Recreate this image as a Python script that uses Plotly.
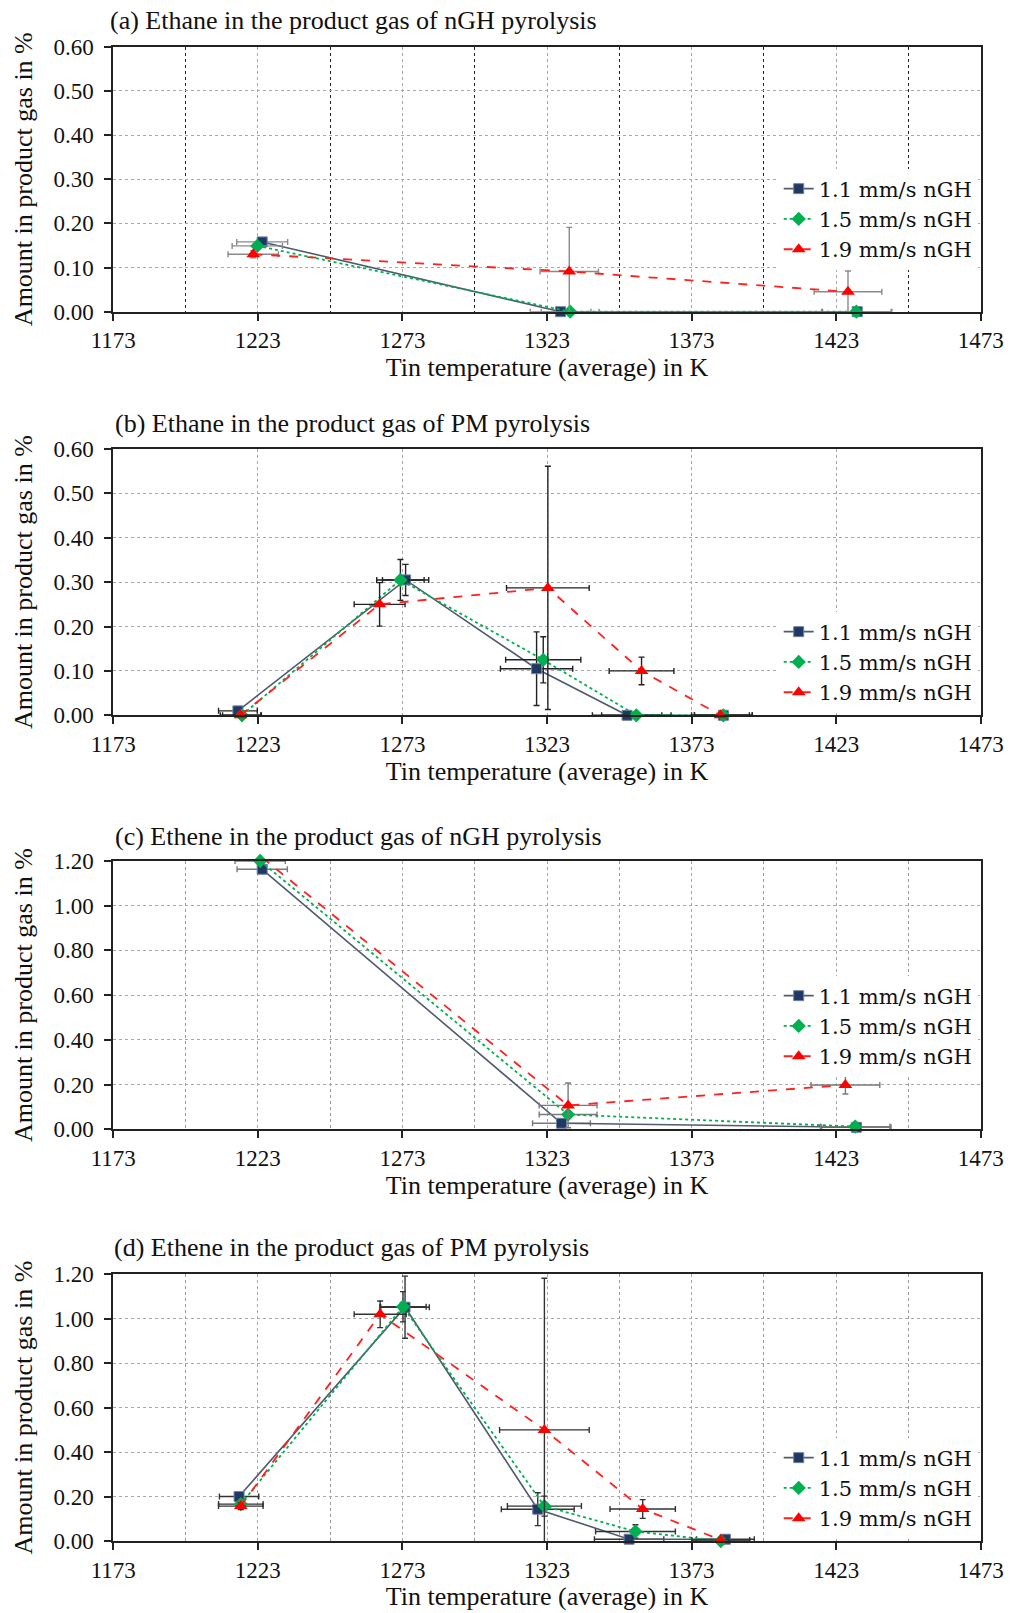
import plotly.graph_objects as go

# ---------------- data ----------------
panel_titles = [
    "(a) Ethane in the product gas of nGH pyrolysis",
    "(b) Ethane in the product gas of PM pyrolysis",
    "(c) Ethene in the product gas of nGH pyrolysis",
    "(d) Ethene in the product gas of PM pyrolysis",
]
series_names = ["1.1 mm/s nGH", "1.5 mm/s nGH", "1.9 mm/s nGH"]
x_ticks = [1173, 1223, 1273, 1323, 1373, 1423, 1473]
y_max = [0.60, 0.60, 1.20, 1.20]
y_step = [0.10, 0.10, 0.20, 0.20]

# (a) Ethane, nGH
a_t11 = [1224.5, 1327.7, 1430.3]; a_y11 = [0.158, 0.0, 0.0]
a_ex11 = [8.8, 10.5, 12.0];       a_ey11 = [0.005, 0.0, 0.0]
a_t15 = [1222.8, 1331.0, 1430.0]; a_y15 = [0.149, 0.0, 0.0]
a_ex15 = [8.7, 10.0, 12.0];       a_ey15 = [0.005, 0.0, 0.0]
a_t19 = [1221.4, 1330.7, 1427.1]; a_y19 = [0.130, 0.091, 0.045]
a_ex19 = [8.7, 10.1, 11.7];       a_ey19 = [0.008, 0.100, 0.047]

# (b) Ethane, PM
b_t11 = [1216.1, 1274.1, 1319.4, 1350.7, 1384.0]; b_y11 = [0.010, 0.305, 0.105, 0.0, 0.0]
b_ex11 = [6.7, 8.0, 12.5, 12.0, 10.0];           b_ey11 = [0.005, 0.035, 0.083, 0.0, 0.0]
b_t15 = [1217.5, 1272.3, 1321.7, 1353.9, 1384.0]; b_y15 = [0.0, 0.305, 0.125, 0.0, 0.0]
b_ex15 = [6.7, 8.2, 13.0, 12.0, 10.0];           b_ey15 = [0.0, 0.046, 0.052, 0.0, 0.0]
b_t19 = [1217.0, 1265.1, 1323.3, 1355.7, 1383.0]; b_y19 = [0.0, 0.250, 0.287, 0.100, 0.0]
b_ex19 = [7.0, 8.8, 14.3, 11.2, 10.0];           b_ey19 = [0.0, 0.049, 0.274, 0.031, 0.0]

# (c) Ethene, nGH
c_t11 = [1224.5, 1328.0, 1430.0]; c_y11 = [1.163, 0.027, 0.009]
c_ex11 = [8.7, 10.0, 12.0];       c_ey11 = [0.01, 0.01, 0.005]
c_t15 = [1223.8, 1330.3, 1429.6]; c_y15 = [1.200, 0.066, 0.012]
c_ex15 = [8.7, 10.0, 12.0];       c_ey15 = [0.0, 0.01, 0.005]
c_t19 = [1224.5, 1330.3, 1426.2]; c_y19 = [1.215, 0.107, 0.198]
c_ex19 = [8.7, 10.0, 11.9];       c_ey19 = [0.0, 0.100, 0.040]

# (d) Ethene, PM
d_t11 = [1216.5, 1273.9, 1319.8, 1351.4, 1384.7]; d_y11 = [0.200, 1.052, 0.143, 0.008, 0.008]
d_ex11 = [6.8, 8.4, 12.6, 12.0, 10.0];           d_ey11 = [0.01, 0.140, 0.074, 0.005, 0.005]
d_t15 = [1217.1, 1273.2, 1322.1, 1353.6, 1383.1]; d_y15 = [0.166, 1.054, 0.157, 0.043, 0.0]
d_ex15 = [7.7, 8.0, 12.8, 13.8, 10.0];           d_ey15 = [0.01, 0.068, 0.045, 0.030, 0.0]
d_t19 = [1217.1, 1265.3, 1322.1, 1356.1, 1383.1]; d_y19 = [0.157, 1.020, 0.500, 0.144, 0.005]
d_ex19 = [7.7, 9.0, 15.5, 11.3, 10.0];           d_ey19 = [0.015, 0.060, 0.682, 0.042, 0.0]

panel_data = [
    [(a_t11, a_y11, a_ex11, a_ey11), (a_t15, a_y15, a_ex15, a_ey15), (a_t19, a_y19, a_ex19, a_ey19)],
    [(b_t11, b_y11, b_ex11, b_ey11), (b_t15, b_y15, b_ex15, b_ey15), (b_t19, b_y19, b_ex19, b_ey19)],
    [(c_t11, c_y11, c_ex11, c_ey11), (c_t15, c_y15, c_ex15, c_ey15), (c_t19, c_y19, c_ex19, c_ey19)],
    [(d_t11, d_y11, d_ex11, d_ey11), (d_t15, d_y15, d_ex15, d_ey15), (d_t19, d_y19, d_ex19, d_ey19)],
]

# ---------------- layout / styles ----------------
W, H = 1015, 1613
X0, X1 = 113.3, 980.7
panel_px = [(46.7, 311.7), (449.0, 715.3), (861.0, 1129.3), (1274.3, 1541.0)]
title_pos = [(108.3, 21.0), (113.3, 423.5), (112.6, 836.5), (112.0, 1247.5)]
legend_cy = [219.0, 662.0, 1026.0, 1488.0]
err_color = ["#8a8a8a", "#222222", "#7a7a7a", "#333333"]
minor_grid = ["#222222", None, "#9a9a9a", "#9a9a9a"]

SERIF = "Liberation Serif, Times New Roman, serif"
LEGEND_FONT = "DejaVu Serif, serif"
styles = [
    dict(line=dict(color="#505b6e", width=1.6, dash="solid"),
         marker=dict(symbol="square", size=10, color="#1f3864", line=dict(color="#7080a0", width=1))),
    dict(line=dict(color="#00b050", width=1.8, dash="dot"),
         marker=dict(symbol="diamond", size=11, color="#00b050")),
    dict(line=dict(color="#ff2020", width=1.8, dash="dash"),
         marker=dict(symbol="triangle-up", size=12, color="#ff0000")),
]

def fx(px):
    return px / W

def fy(py):
    return 1 - py / H

fig = go.Figure()
annotations = []
for p in range(4):
    sfx = "" if p == 0 else str(p + 1)
    leg = "legend" if p == 0 else f"legend{p + 1}"
    for s in range(3):
        t, y, ex, ey = panel_data[p][s]
        st = styles[s]
        fig.add_trace(go.Scatter(
            x=t, y=y, mode="lines+markers", name=series_names[s],
            xaxis="x" + sfx, yaxis="y" + sfx, legend=leg,
            line=st["line"], marker=st["marker"], cliponaxis=False,
            error_x=dict(type="data", array=ex, color=err_color[p], thickness=1.4, width=3),
            error_y=dict(type="data", array=ey, color=err_color[p], thickness=1.4, width=3),
        ))
    top, bot = panel_px[p]
    xa = dict(
        domain=[fx(X0), fx(X1)], anchor="y" + sfx, range=[1173, 1473],
        tickmode="array", tickvals=x_ticks, ticktext=[str(v) for v in x_ticks],
        ticks="outside", ticklen=7, tickwidth=1.5, tickcolor="#222",
        showline=True, linecolor="#222", linewidth=1.8, mirror=True,
        showgrid=True, gridcolor="#a8a8a8", griddash="dot", gridwidth=1,
        zeroline=False, automargin=False,
        tickfont=dict(family=SERIF, size=23, color="#111"),
        title=dict(text="Tin temperature (average) in K",
                   font=dict(family=SERIF, size=26, color="#111"), standoff=4),
    )
    if minor_grid[p]:
        xa["minor"] = dict(dtick=25, tick0=1173, showgrid=True, gridcolor=minor_grid[p],
                           griddash="dot", gridwidth=1)
    ya = dict(
        domain=[fy(bot), fy(top)], anchor="x" + sfx, range=[0, y_max[p]],
        tick0=0, dtick=y_step[p], tickformat=".2f",
        ticks="outside", ticklen=7, tickwidth=1.5, tickcolor="#222",
        showline=True, linecolor="#222", linewidth=1.8, mirror=True,
        showgrid=True, gridcolor="#a8a8a8", griddash="dot", gridwidth=1,
        zeroline=False, automargin=False, ticklabelstandoff=6,
        tickfont=dict(family=SERIF, size=23, color="#111"),
        title=dict(text="Amount in product gas in %",
                   font=dict(family=SERIF, size=26, color="#111"), standoff=13),
    )
    fig.update_layout(**{"xaxis" + sfx: xa, "yaxis" + sfx: ya})
    fig.update_layout(**{leg: dict(
        x=fx(X1 - 3), xanchor="right", y=fy(legend_cy[p]), yanchor="middle",
        bgcolor="white", borderwidth=0, tracegroupgap=0, itemwidth=30,
        font=dict(family=LEGEND_FONT, size=21, color="#111"),
    )})
    tx, ty = title_pos[p]
    annotations.append(dict(
        text=panel_titles[p], xref="paper", yref="paper", x=fx(tx), y=fy(ty),
        xanchor="left", yanchor="middle", showarrow=False,
        font=dict(family=SERIF, size=26, color="#111"),
    ))

fig.update_layout(
    width=W, height=H, margin=dict(l=0, r=0, t=0, b=0),
    paper_bgcolor="white", plot_bgcolor="white",
    annotations=annotations, showlegend=True,
)

fig.write_html("out.html")
